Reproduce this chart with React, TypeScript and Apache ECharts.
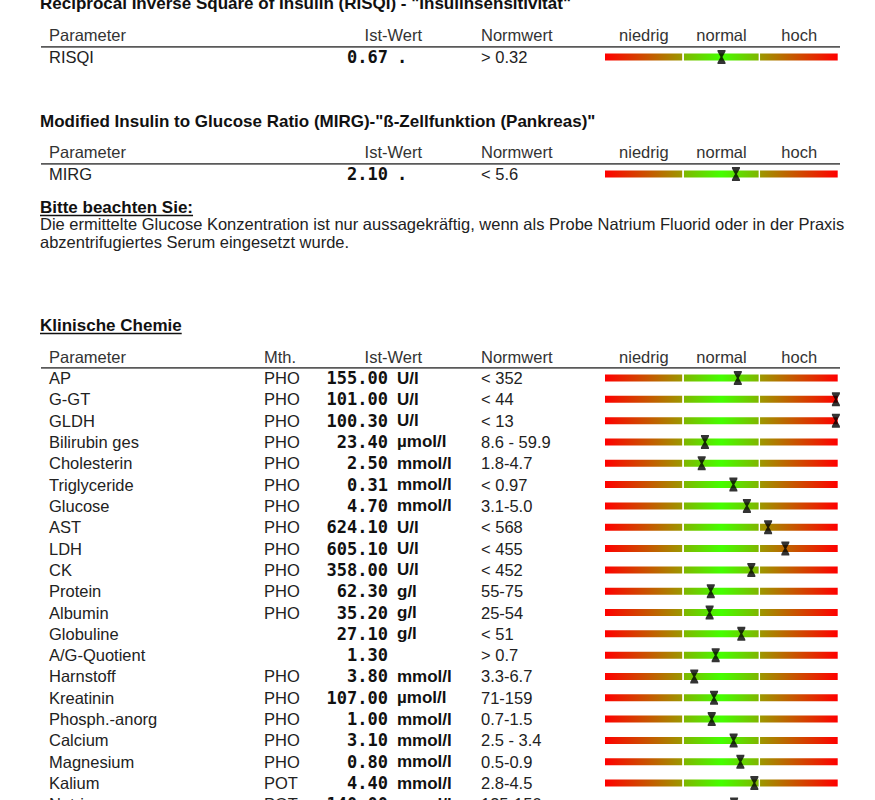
import React, { useEffect, useRef } from "react";
import * as echarts from "echarts";

// ---------- data ----------
const risqiNames = ["RISQI"];
const risqiValues = [0.67];
const risqiUnits = ["."];
const risqiNorms = ["> 0.32"];
const risqiPos = [0.5];

const mirgNames = ["MIRG"];
const mirgValues = [2.1];
const mirgUnits = ["."];
const mirgNorms = ["< 5.6"];
const mirgPos = [0.562];

const chemNames = [
  "AP", "G-GT", "GLDH", "Bilirubin ges", "Cholesterin", "Triglyceride", "Glucose",
  "AST", "LDH", "CK", "Protein", "Albumin", "Globuline", "A/G-Quotient", "Harnstoff",
  "Kreatinin", "Phosph.-anorg", "Calcium", "Magnesium", "Kalium", "Natrium",
];
const chemMethods = [
  "PHO", "PHO", "PHO", "PHO", "PHO", "PHO", "PHO", "PHO", "PHO", "PHO", "PHO", "PHO",
  "", "", "PHO", "PHO", "PHO", "PHO", "PHO", "POT", "POT",
];
const chemValues = [
  155.0, 101.0, 100.3, 23.4, 2.5, 0.31, 4.7, 624.1, 605.1, 358.0, 62.3, 35.2, 27.1,
  1.3, 3.8, 107.0, 1.0, 3.1, 0.8, 4.4, 140.0,
];
const chemUnits = [
  "U/l", "U/l", "U/l", "µmol/l", "mmol/l", "mmol/l", "mmol/l", "U/l", "U/l", "U/l",
  "g/l", "g/l", "g/l", "", "mmol/l", "µmol/l", "mmol/l", "mmol/l", "mmol/l", "mmol/l", "mmol/l",
];
const chemNorms = [
  "< 352", "< 44", "< 13", "8.6 - 59.9", "1.8-4.7", "< 0.97", "3.1-5.0", "< 568", "< 455",
  "< 452", "55-75", "25-54", "< 51", "> 0.7", "3.3-6.7", "71-159", "0.7-1.5", "2.5 - 3.4",
  "0.5-0.9", "2.8-4.5", "135-150",
];
// marker position along the gauge (0 = left end, 1 = right end)
const chemPos = [
  0.57, 0.991, 0.991, 0.429, 0.415, 0.551, 0.609, 0.7, 0.774, 0.628, 0.454, 0.449, 0.585,
  0.475, 0.383, 0.468, 0.458, 0.552, 0.581, 0.641, 0.554,
];

const gaugeHeaders = ["niedrig", "normal", "hoch"];
const title1 = 'Reciprocal Inverse Square of Insulin (RISQI) - "Insulinsensitivität"';
const title2 = 'Modified Insulin to Glucose Ratio (MIRG)-"ß-Zellfunktion (Pankreas)"';
const noteTitle = "Bitte beachten Sie:";
const noteLines = [
  "Die ermittelte Glucose Konzentration ist nur aussagekräftig, wenn als Probe Natrium Fluorid oder in der Praxis",
  "abzentrifugiertes Serum eingesetzt wurde.",
];
const sectionTitle = "Klinische Chemie";

// ---------- layout ----------
const SANS = "'Liberation Sans', Arial, sans-serif";
const MONO = "'DejaVu Sans Mono', 'Liberation Mono', monospace";
const F_REG = `16.5px ${SANS}`;
const F_BOLD = `bold 17px ${SANS}`;
const F_VAL = `bold 17px ${MONO}`;
const GAUGE_LEFT = 605;
const GAUGE_WIDTH = 233;
const ROW_H = 21.32;
const BAR_H = 7;
const COL = { param: 49, mth: 264, valueRight: 388, unit: 397, istRight: 422, norm: 481 };
const LINE_LEFT = 41;
const LINE_RIGHT = 840;

type Table = {
  names: string[];
  methods: string[] | null;
  values: number[];
  units: string[];
  norms: string[];
  pos: number[];
  headerY: number;
  firstRowY: number;
  unitFont: string;
};

const tables: Table[] = [
  { names: risqiNames, methods: null, values: risqiValues, units: risqiUnits, norms: risqiNorms, pos: risqiPos, headerY: 35, firstRowY: 57, unitFont: F_VAL },
  { names: mirgNames, methods: null, values: mirgValues, units: mirgUnits, norms: mirgNorms, pos: mirgPos, headerY: 152, firstRowY: 174, unitFont: F_VAL },
  { names: chemNames, methods: chemMethods, values: chemValues, units: chemUnits, norms: chemNorms, pos: chemPos, headerY: 357, firstRowY: 378, unitFont: F_BOLD },
];

const HOURGLASS = "path://M0,0L10,0L10,2L6.2,9L10,16L10,18L0,18L0,16L3.8,9L0,2Z";

function textWidth(text: string, font: string): number {
  const c = document.createElement("canvas").getContext("2d");
  if (!c) return text.length * 8;
  c.font = font;
  return c.measureText(text).width;
}

export default function App() {
  const ref = useRef<HTMLDivElement>(null);
  useEffect(() => {
    document.body.style.margin = "0";
    if (!ref.current) return;
    const chart = echarts.init(ref.current, null, { renderer: "svg" });

    const grids: any[] = [];
    const xAxes: any[] = [];
    const yAxes: any[] = [];
    const series: any[] = [];
    const graphics: any[] = [];

    const txt = (text: string, x: number, y: number, font: string, fill = "#222", align = "left") => ({
      type: "text",
      x,
      y,
      silent: true,
      style: { text, font, fill, textAlign: align, textVerticalAlign: "middle" },
    });

    const leftGrad = () =>
      new echarts.graphic.LinearGradient(0, 0, 1, 0, [
        { offset: 0, color: "#ff0000" },
        { offset: 1, color: "#9c9800" },
      ]);
    const midGrad = () =>
      new echarts.graphic.LinearGradient(0, 0, 1, 0, [
        { offset: 0, color: "#80b600" },
        { offset: 0.5, color: "#44ff00" },
        { offset: 1, color: "#80b600" },
      ]);
    const rightGrad = () =>
      new echarts.graphic.LinearGradient(0, 0, 1, 0, [
        { offset: 0, color: "#9c9800" },
        { offset: 1, color: "#ff0000" },
      ]);

    tables.forEach((t, ti) => {
      const n = t.names.length;
      grids.push({
        left: GAUGE_LEFT,
        width: GAUGE_WIDTH,
        top: t.firstRowY - ROW_H / 2,
        height: n * ROW_H,
        containLabel: false,
        outerBoundsMode: "none",
      });
      xAxes.push({ type: "value", gridIndex: ti, min: 0, max: 1, show: false });
      yAxes.push({ type: "category", gridIndex: ti, data: t.names, inverse: true, show: false });

      const rowData = t.names.map((_, i) => [0, i]);

      // gauge bars
      series.push({
        type: "custom",
        xAxisIndex: ti,
        yAxisIndex: ti,
        clip: false,
        silent: true,
        encode: { x: 0, y: 1 },
        data: rowData,
        renderItem: (_p: any, api: any) => {
          const i = api.value(1);
          const [xa, y] = api.coord([0, i]);
          const xb = api.coord([1 / 3, i])[0];
          const xc = api.coord([2 / 3, i])[0];
          const xd = api.coord([1, i])[0];
          const top = y - BAR_H / 2;
          return {
            type: "group",
            children: [
              { type: "rect", shape: { x: xa, y: top, width: xb - xa - 0.5, height: BAR_H }, style: { fill: leftGrad() } },
              { type: "rect", shape: { x: xb + 1.3, y: top, width: xc - xb - 3, height: BAR_H }, style: { fill: midGrad() } },
              { type: "rect", shape: { x: xc - 0.3, y: top, width: xd - xc, height: BAR_H }, style: { fill: rightGrad() } },
            ],
          };
        },
      });

      // row texts
      series.push({
        type: "custom",
        xAxisIndex: ti,
        yAxisIndex: ti,
        clip: false,
        silent: true,
        encode: { x: 0, y: 1 },
        data: rowData,
        renderItem: (_p: any, api: any) => {
          const i = api.value(1);
          const y = api.coord([0, i])[1];
          const children: any[] = [
            txt(t.names[i], COL.param, y, F_REG, "#222"),
            txt(t.values[i].toFixed(2), COL.valueRight, y, F_VAL, "#111", "right"),
            txt(t.norms[i], COL.norm, y, F_REG, "#222"),
          ];
          if (t.units[i]) children.push(txt(t.units[i], COL.unit, y, t.unitFont, "#111"));
          if (t.methods && t.methods[i]) children.push(txt(t.methods[i], COL.mth, y, F_REG, "#222"));
          return { type: "group", children };
        },
      });

      // markers
      series.push({
        type: "scatter",
        xAxisIndex: ti,
        yAxisIndex: ti,
        clip: false,
        silent: true,
        symbol: HOURGLASS,
        symbolSize: [8, 14],
        itemStyle: { color: "#000" },
        data: t.pos.map((p, i) => [p, i]),
      });

      // header row
      const hy = t.headerY;
      graphics.push(txt("Parameter", COL.param, hy, F_REG, "#333"));
      if (t.methods) graphics.push(txt("Mth.", COL.mth, hy, F_REG, "#333"));
      graphics.push(txt("Ist-Wert", COL.istRight, hy, F_REG, "#333", "right"));
      graphics.push(txt("Normwert", COL.norm, hy, F_REG, "#333"));
      gaugeHeaders.forEach((h, k) => {
        graphics.push(txt(h, GAUGE_LEFT + GAUGE_WIDTH * ((2 * k + 1) / 6), hy, F_REG, "#333", "center"));
      });
      const ly = t.firstRowY - ROW_H / 2 + 0.5;
      graphics.push({
        type: "line",
        silent: true,
        shape: { x1: LINE_LEFT, y1: ly, x2: LINE_RIGHT, y2: ly },
        style: { stroke: "#5a5a5a", lineWidth: 1.6 },
      });
    });

    // titles & notes
    graphics.push(txt(title1, 40, 3, F_BOLD, "#111"));
    graphics.push(txt(title2, 40, 121, F_BOLD, "#111"));
    graphics.push(txt(noteTitle, 40, 207, F_BOLD, "#111"));
    graphics.push({
      type: "line",
      silent: true,
      shape: { x1: 40, y1: 215.5, x2: 40 + textWidth(noteTitle, F_BOLD), y2: 215.5 },
      style: { stroke: "#111", lineWidth: 1.3 },
    });
    noteLines.forEach((l, k) => graphics.push(txt(l, 40, 224 + k * 18, F_REG, "#222")));
    graphics.push(txt(sectionTitle, 40, 325, F_BOLD, "#111"));
    graphics.push({
      type: "line",
      silent: true,
      shape: { x1: 40, y1: 333.5, x2: 40 + textWidth(sectionTitle, F_BOLD), y2: 333.5 },
      style: { stroke: "#111", lineWidth: 1.3 },
    });

    chart.setOption({
      animation: false,
      backgroundColor: "#ffffff",
      grid: grids,
      xAxis: xAxes,
      yAxis: yAxes,
      series,
      graphic: { elements: graphics },
    });
    return () => chart.dispose();
  }, []);
  return <div ref={ref} style={{ width: 875, height: 800 }} />;
}
